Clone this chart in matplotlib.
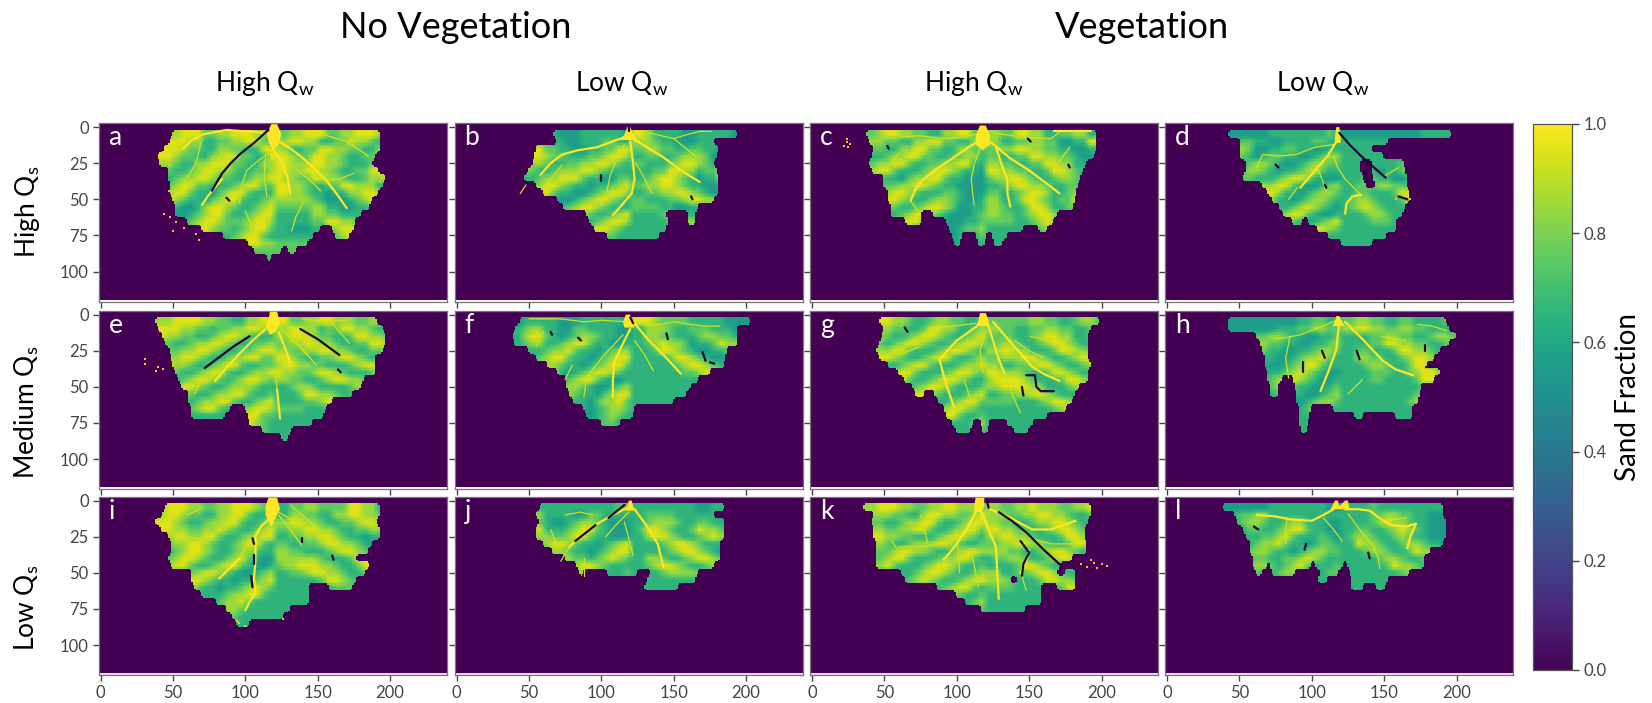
import numpy as np
import matplotlib
matplotlib.use("Agg")
import matplotlib.pyplot as plt
from matplotlib.cm import ScalarMappable
from matplotlib.colors import Normalize

# ==============================
# DATA
# SPANS: deposit extent (left, right) per 5-tall row, first row starts at y=3
# GRID: sand fraction in tenths per 5x5 cell, first column is x=40,
#       from x=120 on each row is listed from the outer edge back to the inlet
# ==============================
SPANS_A = [[(50, 193)], [(48, 193)], [(44, 193)], [(40, 190)], [(41, 188)], [(47, 192)], [(47, 197)], [(48, 195)],
           [(48, 192)], [(50, 188)], [(52, 186)], [(52, 180)], [(60, 176)], [(70, 152), (160, 175)],
           [(85, 147), (162, 172)], [(102, 143)], [(106, 125), (130, 135)], [(115, 118)]]
GRID_A = [
    "88899977889998877899988779998877", "89998866778899776678897766889988", "99987766887766998866778899776688",
    "99877668899776699877667889977899", "88766889997766889976667889988899", "77667899887667788997766788998899",
    "66788998776678899887667889977889", "77899776667899776688899776678899", "88997665789976667899886656678899",
    "99876657899766788998765556788888", "76655689987667899876655668877777", "66556789976678998876666778866666",
    "65567899877789987766788997766666", "66678998776789976667899876655566", "67789987667899766788998766666666",
    "77888776678899887778887777777777", "77777777778877777777777777777777",
]
SPANS_B = [[(67, 194)], [(69, 178)], [(55, 181)], [(54, 180)], [(53, 178)], [(50, 180)], [(47, 181)], [(55, 181)],
           [(60, 181)], [(70, 178)], [(74, 167)], [(90, 145), (160, 165)], [(92, 146), (160, 165)], [(95, 145)],
           [(104, 140)]]
GRID_B = [
    "66666655566666655566666556666899", "66677665566677666556666555667888", "78997766556677997655667766778877",
    "89998776667789987665578887667766", "99887667788998766556678998766677", "88766788899876667788776889977666",
    "66678899976655778899665678998766", "66789987665667899776556678998877", "77899766556789987665567899887766",
    "88997655678998766567889987766677", "88766567899876667889976655667777", "76657889987667899876655666776666",
    "66678998766789987665677887766666", "66789876678998766778998776666666", "66776667889877667788776666666666",
]
SPANS_C = [[(38, 197)], [(40, 197)], [(43, 197)], [(42, 195)], [(40, 190)], [(42, 188)], [(50, 186)], [(50, 184)],
           [(53, 183)], [(53, 182)], [(55, 181)], [(55, 76), (84, 170)], [(65, 76), (93, 167)],
           [(95, 146), (157, 163)], [(97, 104), (114, 121), (125, 135)], [(99, 103), (115, 120), (126, 132)]]
GRID_C = [
    "78998877668899776688776688997788", "88776688997766889966557788776688", "77668899776688776655667788998877",
    "66788997766778866556778899776677", "78899766778899665566889977667788", "89976667899876655567899766778899",
    "77665788997665555667887667899887", "66778899876655556677766788998766", "67899876667765556788766899876677",
    "78998766788765566899776789976688", "89876678998755667998766899766788", "87667899876555677887668998767788",
    "66788997665556678876678987667777", "67899766655567788766789876666666", "66776666555566677666776666666666",
    "66666666555566666666666666666666",
]
SPANS_D = [[(43, 197)], [(51, 153)], [(51, 142)], [(51, 150)], [(55, 134), (142, 164)], [(55, 134), (142, 165)],
           [(53, 136), (143, 166)], [(66, 138), (144, 166)], [(70, 168)], [(73, 168)], [(78, 165)], [(81, 163)],
           [(87, 94), (98, 159)], [(104, 159)], [(112, 152)], [(121, 142)]]
GRID_D = [
    "55555566666666766666655555555555", "66776655666677666566666666666666", "78875566776655667666666666666666",
    "78765677665567887666665566666666", "66678876556788776655667766666666", "66788765667897665566788766566666",
    "66776667899865556788766556677666", "66667889976556788765566778877766", "66678998665678876556789976667766",
    "66667986656788765567899766678876", "66666776678987655678997666789876", "66666667899765567899976667887666",
    "66666678876567899899876667776666", "66666666667899876789876666666666", "66666666678876667787666666666666",
    "66666666666666666666666666666666",
]
SPANS_E = [[(38, 191)], [(40, 195)], [(43, 197)], [(45, 197)], [(48, 195)], [(49, 190)], [(50, 190)], [(52, 190)],
           [(54, 182)], [(56, 180)], [(61, 174)], [(61, 160)], [(63, 90), (100, 156)], [(63, 86), (102, 154)],
           [(103, 146)], [(112, 132)], [(125, 130)]]
GRID_E = [
    "88999988776688999887788899887799", "99988776778899876678899776889988", "98877667899876667889976677899988",
    "77667889987667788997766788998877", "77788998766778998776678899887788", "88899876678899776667899877667899",
    "99887667899766778899876667788998", "88766789976678899876667899877889", "66678998767899876677889987667788",
    "67899876678887667899876666788766", "88987667889976678998766788997666", "99876788997667899887788998776666",
    "99877899766789988776899876667777", "88776666666899776788987666666666", "66666666678998766789976666666666",
    "66666666667787766677666666666666", "66666666666666666666666666666666",
]
SPANS_F = [[(44, 203)], [(41, 194)], [(39, 194)], [(40, 194)], [(50, 187)], [(55, 186)], [(63, 185)], [(70, 175)],
           [(76, 167)], [(76, 162)], [(78, 159)], [(81, 150)], [(88, 123)], [(90, 122)], [(100, 113)]]
GRID_F = [
    "56666655566666655556666677778999", "67886655776666555566677766788866", "68997656788766556677887666778866",
    "67886678997665567889766578898766", "66667889766567889876655678997666", "66678997665678997665567899766666",
    "66788876656789976556789987666666", "66678865678998765678998776666666", "66666667899765567899876666666666",
    "66666678876556789987666666666666", "66666678766578998766666666666666", "66666678665788976666666666666666",
    "66666667665678876666666666666666", "66666666655678766666666666666666", "66666666666677666666666666666666",
]
SPANS_G = [[(47, 199)], [(50, 193)], [(49, 191)], [(47, 191)], [(45, 191)], [(47, 191)], [(53, 193)], [(60, 191)],
           [(64, 191)], [(70, 185)], [(72, 78), (85, 182)], [(88, 180)], [(92, 176)], [(93, 163)],
           [(97, 112), (117, 123), (135, 153)], [(100, 110), (118, 122), (140, 150)]]
GRID_G = [
    "79988766788776677887667788777777", "88877667998866788766778877667788", "88766789987667899766889987667777",
    "77678998766789987667899876678877", "88899766678998766788997666889988", "99987667899766788998766789988877",
    "87667899766678899876678998776688", "66789976667899876667899766788899", "77899766789987666789976667899998",
    "88976678998766678998766688999988", "87667899876667899766667899887766", "76789987666789976667899876667777",
    "77899876678998766789987666666666", "78998766789976678998766666666666", "88776667887666789876666666666666",
    "66666666666666777666666666666666",
]
SPANS_H = [[(43, 193)], [(43, 195)], [(62, 200)], [(65, 195)], [(66, 189)], [(68, 185)], [(68, 180)], [(70, 189)],
           [(70, 80), (88, 185)], [(72, 77), (89, 176)], [(72, 77), (90, 175)], [(90, 174)], [(92, 100), (115, 170)],
           [(92, 99), (130, 136), (158, 170)], [(92, 98)], [(93, 97)]]
GRID_H = [
    "55555555556677667766667766778877", "55555556667788776666778877889988", "66667788766556677887667788776666",
    "66778877665566788766778899776666", "66778766556678876667889976667766", "67887665567889766678998766778866",
    "67876655678997665678997667887666", "67766566789876556789987667776666", "66655678998765567899976666776666",
    "66665678876655678997766666666666", "66666567866556788766776666666666", "66666567655678876657887666666666",
    "66666566556787665678766666666666", "66666666666666666666666666666666", "66666666666666666666666666666666",
    "66666666666666666666666666666666",
]
SPANS_I = [[(45, 193)], [(43, 193)], [(38, 191)], [(42, 193)], [(47, 193)], [(49, 188)], [(49, 185)], [(47, 177)],
           [(49, 186)], [(63, 183)], [(63, 177)], [(65, 144), (158, 174)], [(70, 144)], [(80, 144)], [(87, 131)],
           [(91, 126)], [(94, 103)]]
GRID_I = [
    "89998877889998776688997777887766", "89987766889976667788998866778866", "99876678899766788899877667889988",
    "99887788987667899887766788998877", "88998899766788997665667899887766", "77889987667899766556788998776677",
    "66789987667887665567899876667788", "77899876678976556789976667888888", "88997667899765567899766788999887",
    "87667899876556788987667889987766", "77789987665667899766678997666666", "67899766566789876666777766666666",
    "66788666678899766666666666666666", "66667665788976666666666666666666", "66666667788766666666666666666666",
    "66666666777666666666666666666666", "55555555556666666666666666666666",
]
SPANS_J = [[(58, 185)], [(55, 178)], [(57, 185)], [(55, 185)], [(55, 185)], [(60, 182)], [(66, 182)], [(75, 182)],
           [(83, 178)], [(85, 88), (104, 125), (134, 167)], [(132, 165)], [(130, 153)]]
GRID_J = [
    "56666666666666776666655666666666", "67886666557766665555666666777766", "78976556788765555556677667888766",
    "67896667899765555567889766789976", "66788778997665556788987667899866", "66778998766567899876667899876666",
    "66667887665678998765678998766666", "66666788776789876667899876678866", "66666667899876667899876678998766",
    "66666666888766678887667888876666", "66666666666666666788997666666666", "66666666666666666678876666666666",
]
SPANS_K = [[(36, 193)], [(43, 193)], [(42, 191)], [(43, 189)], [(43, 189)], [(45, 190)], [(45, 190)], [(45, 180)],
           [(45, 172)], [(62, 170), (175, 182)], [(65, 138), (142, 182)], [(87, 159), (170, 182)],
           [(100, 159)], [(106, 159)], [(117, 148)]]
GRID_K = [
    "89998877889988879988778889887788", "88877668998877899766788998877888", "77667889976678997667899887667788",
    "88778899766789976678998766778899", "99887766678998766789976667889988", "88766788899876678899766788998877",
    "77789988766789987667899876677888", "77899766678899766788998766788776", "88976667899876678998766789976666",
    "66666678998766789976678998776688", "66666789876678997667889976667888", "66666666667899766789976666667777",
    "66666666678876678897666666666666", "66666666667766789766666666666666", "66666666666666777666666666666666",
]
SPANS_L = [[(39, 191)], [(47, 191)], [(49, 193)], [(53, 193)], [(55, 193)], [(58, 191)], [(58, 182)], [(60, 178)],
           [(60, 70), (72, 100), (103, 122), (125, 178)], [(62, 66), (73, 89), (106, 119), (127, 168)],
           [(105, 111), (128, 153)], [(128, 136), (145, 151)]]
GRID_L = [
    "55555566666666556666666666676666", "66778866666666665555667788776666", "66788766788666555555667889876666",
    "66677667899766555555678987667766", "66666778976667655555667876678876", "66667889766567766566788766788966",
    "66678876656788776678897667887666", "66677766778987667889766788766666", "66678876789766678876678897666666",
    "66677667887666776667888766666666", "66666666666766666678876666666666", "66666666666666666677666666666666",
]

# channel traces (x, y); TRUNK is the fan outline at the inlet
TRUNK_A = [(118, -2), (122, -2), (125, 5), (123, 12), (119, 16), (116, 10), (115, 4)]
MAIN_A = [[(120, 8), (130, 14), (138, 20), (147, 28), (156, 37), (163, 46), (170, 56)],
          [(115, 4), (100, 3), (87, 2), (71, 5), (63, 9), (57, 15)],
          [(84, 36), (78, 43), (74, 48), (70, 54)], [(119, 15), (125, 24), (129, 34), (131, 46)]]
THIN_A = [[(120, 12), (128, 22), (136, 30), (145, 37), (152, 44)], [(116, 18), (108, 24), (101, 30), (97, 42), (96, 53)],
          [(114, 20), (113, 34), (115, 48)], [(57, 15), (48, 12)], [(156, 37), (165, 36), (175, 32)],
          [(150, 4), (170, 10), (185, 20)], [(70, 8), (66, 25), (60, 35)], [(140, 52), (135, 62), (132, 72)],
          [(84, 18), (75, 30)], [(100, 58), (105, 70)]]
DARK_A = [[(116, 2), (106, 11), (96, 19), (90, 25), (84, 32), (81, 37), (77, 44)], [(87, 49), (89, 51)]]
SPECK_A = [(48, 62), (52, 66), (58, 70), (66, 74), (68, 78), (44, 60), (50, 72), (70, 70), (47, 26), (47, 44), (193, 37)]

TRUNK_B = [(118, 0), (120, 0), (122, 5), (125, 9), (113, 9), (116, 5)]
MAIN_B = [[(120, 7), (130, 13), (143, 21), (155, 30), (168, 38)], [(116, 7), (105, 11), (97, 14), (84, 16), (73, 19), (65, 25), (58, 33)],
          [(120, 10), (122, 25), (123, 36), (121, 46), (115, 53), (108, 61)]]
THIN_B = [[(116, 12), (110, 24), (106, 34), (104, 44), (100, 54)], [(133, 4), (150, 8), (160, 5), (168, 3), (176, 3)],
          [(124, 25), (130, 36), (135, 46)], [(48, 40), (44, 46)], [(73, 26), (60, 42)], [(150, 8), (165, 20)]]
DARK_B = [[(100, 33), (100, 37)], [(162, 48), (163, 50)], [(119, 0), (119, 3)]]
SPECK_B = []

TRUNK_C = [(116, -1), (120, -1), (123, 6), (123, 12), (118, 16), (113, 12), (113, 6)]
MAIN_C = [[(118, 8), (108, 14), (98, 21), (86, 29), (76, 37), (71, 44), (68, 51)],
          [(120, 8), (128, 14), (136, 21), (150, 30), (162, 39), (171, 46)],
          [(127, 14), (131, 26), (135, 37), (135, 46), (137, 55)], [(167, 3), (180, 3), (193, 3)]]
THIN_C = [[(116, 15), (112, 26), (110, 36), (111, 46), (112, 54)], [(118, 4), (104, 7), (90, 8), (75, 6), (60, 7)],
          [(125, 4), (145, 7), (165, 8), (172, 3)], [(68, 51), (73, 58)], [(60, 18), (52, 28)], [(178, 14), (170, 25)]]
DARK_C = [[(52, 13), (53, 15)], [(149, 8), (151, 10)], [(177, 26), (178, 28)]]
SPECK_C = [(22, 13), (24, 10), (26, 12), (24, 8), (25, 14)]

TRUNK_D = [(117, 0), (119, 0), (120, 6), (120, 11), (116, 11), (116, 6)]
MAIN_D = [[(117, 10), (111, 20), (104, 28), (98, 35), (92, 42)], [(134, 47), (128, 48), (124, 53), (123, 60)]]
THIN_D = [[(115, 20), (118, 28), (123, 36), (128, 41), (134, 47)], [(116, 12), (102, 14), (89, 19), (78, 20), (66, 19), (62, 28)],
          [(104, 28), (107, 36), (110, 45)], [(90, 42), (84, 50)], [(150, 34), (160, 28)]]
DARK_D = [[(119, 4), (126, 12), (134, 20), (143, 28), (151, 35)], [(136, 30), (139, 38)], [(75, 26), (77, 28)],
          [(160, 48), (166, 50)], [(109, 40), (110, 42)]]
SPECK_D = [(160, 46), (164, 48), (168, 50), (158, 50)]

TRUNK_E = [(117, -2), (122, -2), (124, 6), (121, 12), (117, 14), (114, 8), (116, 4)]
MAIN_E = [[(114, 10), (105, 18), (96, 27), (86, 38), (79, 46)], [(123, 12), (127, 22), (131, 33)], [(122, 52), (123, 62), (124, 72)]]
THIN_E = [[(131, 33), (125, 38), (121, 43), (122, 52)], [(128, 8), (138, 22), (149, 35)], [(139, 3), (155, 5), (170, 4)],
          [(125, 10), (135, 20), (145, 30)], [(160, 6), (172, 20)], [(70, 45), (65, 55)]]
DARK_E = [[(103, 15), (92, 22), (84, 28), (72, 37)], [(138, 10), (150, 17), (165, 28)], [(164, 38), (166, 40)]]
SPECK_E = [(31, 31), (31, 34), (40, 36), (43, 38), (38, 39)]

TRUNK_F = [(117, 0), (120, 0), (121, 5), (123, 9), (116, 9), (115, 5)]
MAIN_F = [[(122, 5), (127, 11), (132, 17), (144, 29), (155, 41)], [(120, 10), (114, 22), (109, 33), (108, 45), (108, 57)]]
THIN_F = [[(115, 14), (102, 28), (90, 43), (88, 57)], [(118, 5), (100, 4), (88, 5), (72, 3), (50, 3)],
          [(124, 6), (140, 7), (150, 5), (170, 8), (182, 8)], [(123, 18), (130, 28), (136, 39)], [(60, 12), (55, 22)],
          [(80, 35), (75, 45)]]
DARK_F = [[(145, 13), (146, 17)], [(170, 26), (172, 32)], [(84, 16), (86, 18)], [(120, 2), (122, 6)], [(65, 12), (66, 14)],
          [(175, 33), (178, 34)]]
SPECK_F = []

TRUNK_G = [(116, -1), (120, -1), (122, 4), (122, 8), (113, 8), (115, 4)]
MAIN_G = [[(121, 5), (125, 18), (129, 31), (133, 41)], [(125, 5), (138, 20), (152, 36), (160, 41), (171, 46)],
          [(114, 8), (100, 18), (88, 31), (92, 46), (98, 64)]]
THIN_G = [[(133, 41), (138, 55), (144, 68)], [(113, 6), (98, 8), (85, 9), (64, 21)], [(151, 15), (165, 19), (182, 24)],
          [(120, 12), (116, 25), (118, 40)], [(140, 18), (150, 25), (160, 30)], [(60, 28), (75, 22)], [(105, 45), (110, 60)]]
DARK_G = [[(148, 42), (154, 42), (155, 50), (158, 53), (167, 53)], [(64, 9), (66, 12)], [(145, 50), (146, 56)]]
SPECK_G = []

TRUNK_H = [(117, 1), (119, 1), (121, 5), (123, 8), (114, 8), (116, 5)]
MAIN_H = [[(123, 5), (136, 18), (149, 32), (158, 38), (170, 42)], [(119, 5), (118, 14), (117, 24), (112, 38), (106, 53)]]
THIN_H = [[(117, 4), (105, 9), (92, 14), (82, 16), (74, 17)], [(173, 7), (183, 8), (193, 11)], [(135, 45), (125, 55)],
          [(85, 15), (82, 30), (84, 44)], [(148, 15), (165, 18)]]
DARK_H = [[(107, 25), (109, 30)], [(131, 25), (133, 31)], [(94, 33), (94, 40)], [(178, 21), (178, 25)], [(179, 36), (184, 36)]]
SPECK_H = []

TRUNK_I = [(116, -2), (122, -2), (124, 6), (121, 12), (118, 18), (114, 10), (114, 4)]
MAIN_I = [[(117, 12), (111, 18), (107, 25), (107, 42), (106, 54), (107, 64), (103, 70), (100, 76)], [(96, 40), (89, 47), (82, 54)]]
THIN_I = [[(123, 8), (140, 18), (156, 26)], [(131, 3), (144, 14), (156, 24)], [(123, 10), (131, 20), (139, 31)],
          [(112, 16), (104, 26), (96, 40)], [(70, 5), (60, 10)], [(145, 40), (160, 55)], [(75, 30), (62, 25)]]
DARK_I = [[(105, 26), (106, 30)], [(106, 38), (106, 44)], [(160, 38), (161, 41)], [(139, 26), (139, 29)], [(104, 52), (105, 60)]]
SPECK_I = [(96, 85), (100, 87), (94, 83), (126, 82)]

TRUNK_J = [(119, 0), (121, 0), (122, 4), (124, 7), (117, 7), (118, 4)]
MAIN_J = [[(118, 5), (106, 11), (94, 18), (85, 25), (78, 32)], [(123, 6), (131, 17), (139, 30), (141, 38), (143, 46)]]
THIN_J = [[(119, 8), (110, 17), (103, 25)], [(116, 15), (119, 26), (122, 38)], [(94, 10), (85, 8), (75, 10)], [(78, 32), (72, 42)],
          [(88, 40), (88, 52)], [(65, 20), (70, 32)]]
DARK_J = [[(116, 3), (105, 12)], [(96, 17), (82, 28)]]
SPECK_J = []

TRUNK_K = [(113, -2), (119, -2), (119, 4), (117, 8), (112, 8), (112, 4)]
MAIN_K = [[(114, 6), (108, 18), (100, 30), (91, 41)], [(117, 8), (122, 20), (127, 32), (128, 50), (129, 68)],
          [(123, 6), (137, 12), (152, 20), (165, 20), (182, 14)], [(150, 34), (148, 42), (144, 50)]]
THIN_K = [[(100, 20), (101, 36), (102, 50)], [(150, 26), (165, 30), (182, 30)], [(60, 32), (75, 32), (90, 30)],
          [(145, 50), (146, 56), (148, 62)], [(75, 10), (80, 30)], [(110, 35), (115, 60)], [(55, 28), (62, 38)]]
DARK_K = [[(121, 1), (122, 5)], [(129, 8), (138, 14), (148, 22), (160, 34), (172, 45)], [(144, 28), (150, 36), (146, 44), (145, 52)]]
SPECK_K = [(195, 43), (200, 44), (204, 45), (190, 46), (197, 47), (186, 44), (193, 41)]

TRUNK_L = [(116, 0), (118, 0), (119, 4), (123, 0), (125, 0), (126, 6), (113, 6)]
MAIN_L = [[(115, 6), (108, 10), (100, 14), (85, 13), (75, 11), (62, 10)],
          [(123, 6), (132, 6), (140, 7), (148, 13), (155, 17), (165, 18), (172, 16), (168, 25), (166, 33)]]
THIN_L = [[(125, 9), (133, 20), (142, 31), (146, 40), (147, 47)], [(108, 12), (115, 20), (121, 28)], [(83, 12), (82, 20), (82, 30)],
          [(150, 14), (165, 12)]]
DARK_L = [[(60, 18), (63, 20)], [(96, 30), (95, 34)], [(139, 36), (140, 40)]]
SPECK_L = []

PANEL_LABELS = list("abcdefghijkl")
SPANS = [SPANS_A, SPANS_B, SPANS_C, SPANS_D, SPANS_E, SPANS_F, SPANS_G, SPANS_H, SPANS_I, SPANS_J, SPANS_K, SPANS_L]
GRIDS = [GRID_A, GRID_B, GRID_C, GRID_D, GRID_E, GRID_F, GRID_G, GRID_H, GRID_I, GRID_J, GRID_K, GRID_L]
TRUNKS = [TRUNK_A, TRUNK_B, TRUNK_C, TRUNK_D, TRUNK_E, TRUNK_F, TRUNK_G, TRUNK_H, TRUNK_I, TRUNK_J, TRUNK_K, TRUNK_L]
MAINS = [MAIN_A, MAIN_B, MAIN_C, MAIN_D, MAIN_E, MAIN_F, MAIN_G, MAIN_H, MAIN_I, MAIN_J, MAIN_K, MAIN_L]
THINS = [THIN_A, THIN_B, THIN_C, THIN_D, THIN_E, THIN_F, THIN_G, THIN_H, THIN_I, THIN_J, THIN_K, THIN_L]
DARKS = [DARK_A, DARK_B, DARK_C, DARK_D, DARK_E, DARK_F, DARK_G, DARK_H, DARK_I, DARK_J, DARK_K, DARK_L]
SPECKS = [SPECK_A, SPECK_B, SPECK_C, SPECK_D, SPECK_E, SPECK_F, SPECK_G, SPECK_H, SPECK_I, SPECK_J, SPECK_K, SPECK_L]

X_TICKS = [0, 50, 100, 150, 200]
Y_TICKS = [0, 25, 50, 75, 100]
CBAR_TICKS = [0.0, 0.2, 0.4, 0.6, 0.8, 1.0]
COL_TITLES = ["High Q$_{\\mathrm{w}}$", "Low Q$_{\\mathrm{w}}$", "High Q$_{\\mathrm{w}}$", "Low Q$_{\\mathrm{w}}$"]
ROW_TITLES = ["High Q$_{\\mathrm{s}}$", "Medium Q$_{\\mathrm{s}}$", "Low Q$_{\\mathrm{s}}$"]

# ==============================
# LAYOUT (pixels of the 1652x703 picture)
# ==============================
W, H = 1652, 703
COL_LEFT = [98.5, 454.5, 810, 1165]
COL_WIDTH = 348
ROW_TOP = [123, 310.5, 496.5]
ROW_HEIGHT = 178.5
ROW_STRIP = ["white", "white", "#e9deef"]
COL_TITLE_X = [265, 622, 974, 1323]
ROW_TITLE_Y = [212, 412, 608]

plt.rcParams["font.family"] = ["Lato", "DejaVu Sans"]
plt.rcParams["mathtext.fontset"] = "custom"
plt.rcParams["mathtext.rm"] = "Lato"
GREY = "#454545"
YELLOW = "#fde725"
THIN_YELLOW = "#cfe11c"
DARK = "#1d0a30"
PURPLE = plt.get_cmap("viridis")(0.0)


def px_axes(fig, left, top, width, height):
    return fig.add_axes([left / W, 1 - (top + height) / H, width / W, height / H])


def spans_to_mask(spans):
    mask = np.zeros((120, 240))
    for r, row in enumerate(spans):
        for left, right in row:
            mask[3 + 5 * r:8 + 5 * r, left:right] = 1.0
    # round off the stair steps a little
    soft = np.zeros_like(mask)
    for dy in (-1, 0, 1):
        for dx in (-1, 0, 1):
            soft += np.roll(np.roll(mask, dy, axis=0), dx, axis=1)
    return (soft / 9 >= 0.5) & (np.arange(120)[:, None] >= 3)


def grid_to_image(rows, spans):
    cx = 42.5 + 5 * np.arange(32)
    cy = 5.5 + 5 * np.arange(19)
    val = np.full((19, 32), 0.68)
    for r, row in enumerate(rows):
        ordered = row[:16] + row[16:][::-1]
        for c, ch in enumerate(ordered):
            val[r, c] = int(ch) / 10 + 0.05
    xs, ys = np.arange(240), np.arange(120)
    a1 = np.array([np.interp(xs, cx, line) for line in val])
    img = np.array([np.interp(ys, cy, line) for line in a1.T]).T
    img[~spans_to_mask(spans)] = 0.0
    return img


def draw_lines(ax, lines, color, lw):
    for line in lines:
        xy = np.array(line, dtype=float)
        ax.plot(xy[:, 0], xy[:, 1], color=color, lw=lw, solid_capstyle="round", solid_joinstyle="round", zorder=3)


def draw_panel(ax, i, row, col):
    ax.set_facecolor(ROW_STRIP[row])
    ax.axhspan(-2.8, 0, color=PURPLE, lw=0, zorder=0)
    ax.imshow(grid_to_image(GRIDS[i], SPANS[i]), cmap="viridis", vmin=0, vmax=1, interpolation="nearest",
              extent=(-0.5, 239.5, 119.5, -0.5), zorder=1)
    draw_lines(ax, THINS[i], THIN_YELLOW, 0.9)
    draw_lines(ax, MAINS[i], YELLOW, 1.6)
    trunk = np.array(TRUNKS[i], dtype=float)
    ax.fill(trunk[:, 0], trunk[:, 1], color=YELLOW, lw=0, zorder=3)
    draw_lines(ax, DARKS[i], DARK, 1.6)
    if SPECKS[i]:
        sp = np.array(SPECKS[i])
        ax.scatter(sp[:, 0], sp[:, 1], s=2.5, marker="s", color="#f5c52a", lw=0, zorder=3)

    ax.set_aspect("auto")
    ax.set_xlim(-1.4, 239.0)
    ax.set_ylim(120.7, -2.8)
    ax.set_xticks(X_TICKS)
    ax.set_yticks(Y_TICKS)
    ax.tick_params(length=4, width=1.0, color=GREY, labelcolor=GREY, labelsize=12,
                   labelbottom=(row == 2), labelleft=(col == 0), pad=3)
    for sp_name in ax.spines:
        ax.spines[sp_name].set_color("#777777")
        ax.spines[sp_name].set_linewidth(0.9)
    ax.text(5.5, 7.5, PANEL_LABELS[i], color="white", fontsize=19, ha="left", va="center", zorder=4)


def main():
    fig = plt.figure(figsize=(W / 100, H / 100), dpi=100, facecolor="white")

    i = 0
    for row in range(3):
        for col in range(4):
            ax = px_axes(fig, COL_LEFT[col], ROW_TOP[row], COL_WIDTH, ROW_HEIGHT)
            draw_panel(ax, i, row, col)
            i += 1

    # colorbar
    cax = px_axes(fig, 1533, 124, 39, 546)
    cb = fig.colorbar(ScalarMappable(Normalize(0, 1), "viridis"), cax=cax, ticks=CBAR_TICKS)
    cb.ax.tick_params(length=5, width=1.0, color=GREY, labelcolor=GREY, labelsize=12, pad=3)
    cb.outline.set_edgecolor("#555555")
    cb.outline.set_linewidth(0.9)

    # figure text
    fig.text(456 / W, 1 - 27 / H, "No Vegetation", fontsize=26, ha="center", va="center", color="black")
    fig.text(1142 / W, 1 - 27 / H, "Vegetation", fontsize=26, ha="center", va="center", color="black")
    for x, title in zip(COL_TITLE_X, COL_TITLES):
        fig.text(x / W, 1 - 84 / H, title, fontsize=19, ha="center", va="center", color="black")
    for y, title in zip(ROW_TITLE_Y, ROW_TITLES):
        fig.text(27 / W, 1 - y / H, title, fontsize=19, rotation=90, ha="center", va="center", color="black")
    fig.text(1628 / W, 1 - 397 / H, "Sand Fraction", fontsize=20, rotation=90, ha="center", va="center", color="black")

    fig.savefig("out.png", dpi=100)


if __name__ == "__main__":
    main()
